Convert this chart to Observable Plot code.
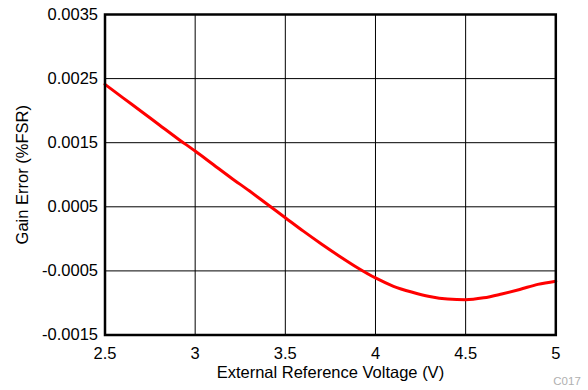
<!DOCTYPE html>
<html>
<head>
<meta charset="utf-8">
<script src="https://cdn.jsdelivr.net/npm/d3@7"></script>
<script src="https://cdn.jsdelivr.net/npm/@observablehq/plot@0.6"></script>
<style>
  html, body { margin: 0; padding: 0; background: #fff; }
</style>
</head>
<body>
<div id="chart"></div>
<script>
// Data
const voltage = [2.5, 2.6, 2.7, 2.8, 2.9, 3.0, 3.1, 3.2, 3.3, 3.4, 3.5, 3.6, 3.7, 3.8, 3.9, 4.0, 4.1, 4.2, 4.3, 4.4, 4.5, 4.6, 4.7, 4.8, 4.9, 5.0];
const gainError = [0.00241, 0.00220, 0.00199, 0.00178, 0.00157, 0.00137, 0.00116, 0.00095, 0.00075, 0.00054, 0.00033, 0.00012, -0.00008, -0.00027, -0.00045, -0.00061, -0.00074, -0.00083, -0.00090, -0.00094, -0.00095, -0.00092, -0.00086, -0.00079, -0.00071, -0.00066];
const xTicks = [2.5, 3, 3.5, 4, 4.5, 5];
const yTicks = [-0.0015, -0.0005, 0.0005, 0.0015, 0.0025, 0.0035];
const xTitle = "External Reference Voltage (V)";
const yTitle = "Gain Error (%FSR)";
const note = "C017";

const data = voltage.map((v, i) => ({v, e: gainError[i]}));

const chart = Plot.plot({
  width: 588,
  height: 390,
  marginLeft: 104.5,
  marginRight: 32.7,
  marginTop: 14,
  marginBottom: 55.5,
  style: {fontFamily: "'Liberation Sans', Arial, sans-serif", fontSize: "16.5px", background: "#fff", color: "#000"},
  x: {domain: [2.5, 5]},
  y: {domain: [-0.0015, 0.0035]},
  marks: [
    Plot.ruleX(xTicks.slice(1, -1), {stroke: "#000", strokeWidth: 1}),
    Plot.ruleY(yTicks.slice(1, -1), {stroke: "#000", strokeWidth: 1}),
    Plot.line(data, {x: "v", y: "e", stroke: "#ff0000", strokeWidth: 3, curve: "monotone-x"}),
    Plot.frame({stroke: "#000", strokeWidth: 2.5}),
    Plot.axisX({ticks: xTicks, tickSize: 0, tickPadding: 12.5, tickFormat: d => String(d), label: null, fontSize: 16.5}),
    Plot.axisY({ticks: yTicks, tickSize: 0, tickPadding: 7, tickFormat: d => d.toFixed(4), label: null, fontSize: 16.5}),
    Plot.text([xTitle], {frameAnchor: "bottom", textAnchor: "middle", dy: 37.5, fontSize: 16.5, lineAnchor: "middle", fill: "#000"}),
    Plot.text([yTitle], {frameAnchor: "left", textAnchor: "middle", rotate: -90, dx: -82, fontSize: 16.5, lineAnchor: "middle", fill: "#000"}),
    Plot.text([note], {frameAnchor: "bottom-right", textAnchor: "end", dx: 25, dy: 46.5, fontSize: 11.5, lineAnchor: "middle", fill: "#b0b0b0"})
  ]
});
document.getElementById("chart").appendChild(chart);
</script>
</body>
</html>
